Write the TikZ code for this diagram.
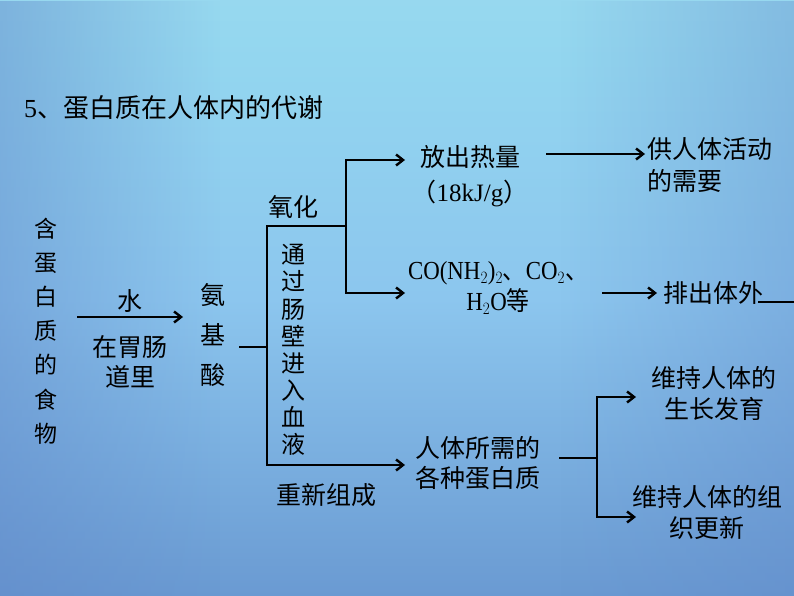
\documentclass[tikz,border=0pt]{standalone}
\usepackage{fontspec}
\setmainfont{Liberation Serif}
\newfontfamily\cjk{Noto Sans CJK SC}
\usetikzlibrary{arrows.meta,fadings}
\definecolor{bgtop}{HTML}{A4E0EF}
\definecolor{bgmidA}{HTML}{93D6EF}
\definecolor{bgmidB}{HTML}{8CC6EE}
\definecolor{bgmidC}{HTML}{6A9AD2}
\definecolor{bgbot}{HTML}{3F5E9A}
\definecolor{sidecol}{HTML}{5F86C8}
\pgfdeclareverticalshading{bgshade}{100bp}{color(0bp)=(bgbot); color(8bp)=(bgbot); color(25bp)=(bgmidC); color(50bp)=(bgmidB); color(70bp)=(bgmidA); color(92bp)=(bgtop); color(100bp)=(bgtop)}
\tikzset{
  txt/.style={inner sep=0pt, align=center, font=\cjk\fontsize{25}{31}\selectfont},
  vtxt/.style={inner sep=0pt, align=center},
  conn/.style={line width=2.6pt, line cap=rect},
  arr/.style={conn, -{Straight Barb[length=7pt,width=11pt,line width=2.4pt]}},
}
\newcommand{\narrow}[1]{\scalebox{0.88}[1]{#1}}
\begin{document}
\begin{tikzpicture}[x=1pt,y=-1pt]
\useasboundingbox (0,0) rectangle (794,596);
\fill[shading=bgshade] (0,0) rectangle (794,596);
\fill[sidecol, opacity=0.45, path fading=east] (0,0) rectangle (220,596);
\fill[sidecol, opacity=0.35, path fading=west] (560,0) rectangle (794,596);

% title
\node[txt, anchor=west] (title) at (24,108) {\rmfamily\fontsize{26}{30}\selectfont 5\cjk 、蛋白质在人体内的代谢};

% left column
\node[vtxt, font=\cjk\fontsize{23}{34.2}\selectfont] (food) at (46,331) {含\\蛋\\白\\质\\的\\食\\物};
\node[txt] (water) at (130,301) {水};
\node[txt, font=\cjk\fontsize{25}{30}\selectfont] (gut) at (130,362) {在胃肠\\道里};
\node[vtxt, font=\cjk\fontsize{25}{40}\selectfont] (amino) at (213,335) {氨\\基\\酸};

\coordinate (w1) at (78,317);
\coordinate (w2) at (183,317);
\draw[arr] (w1) -- (w2);

% branch
\coordinate (a0) at (240,347);
\coordinate (j1) at (267,347);
\coordinate (jt) at (267,226);
\coordinate (jb) at (267,465);
\coordinate (k0) at (346,226);
\coordinate (kt) at (346,160);
\coordinate (kb) at (346,293);
\draw[conn] (a0) -- (j1);
\draw[conn] (jt) -- (jb);
\draw[conn] (jt) -- (k0);
\draw[conn] (kt) -- (kb);

\node[txt] (oxid) at (293,207) {氧化};
\node[vtxt, font=\cjk\fontsize{24}{27.1}\selectfont] (blood) at (293,350) {通\\过\\肠\\壁\\进\\入\\血\\液};
\node[txt] (recomb) at (326,495) {重新组成};

\node[txt, font=\cjk\fontsize{25}{35}\selectfont] (heat) at (470,176) {放出热量\\（{\rmfamily 18kJ/g}）};
\node[inner sep=0pt, align=center, font=\fontsize{26}{31}\selectfont] (waste) at (498,288) {\narrow{CO(NH$_2$)$_2${\cjk 、}CO$_2${\cjk 、}}\\\narrow{H$_2$O{\cjk 等}}};
\node[txt, font=\cjk\fontsize{25}{30}\selectfont] (prot) at (478,463) {人体所需的\\各种蛋白质};

\coordinate (h1) at (405,160);
\coordinate (h2) at (405,293);
\coordinate (h3) at (405,465);
\draw[arr] (kt) -- (h1);
\draw[arr] (kb) -- (h2);
\draw[arr] (jb) -- (h3);

% right column
\node[txt, anchor=west, align=left, font=\cjk\fontsize{25}{32}\selectfont] (activity) at (647,165) {供人体活动\\的需要};
\coordinate (e1) at (547,154);
\coordinate (e2) at (645,154);
\draw[arr] (e1) -- (e2);

\node[txt, anchor=west] (excrete) at (663,293) {排出体外};
\coordinate (x1) at (603,293);
\coordinate (x2) at (657,293);
\draw[arr] (x1) -- (x2);
\coordinate (u1) at (758,302);
\coordinate (u2) at (794,302);
\draw[line width=2pt] (u1) -- (u2);

\coordinate (p0) at (560,458);
\coordinate (p1) at (597,458);
\coordinate (pt) at (597,397);
\coordinate (pb) at (597,517);
\coordinate (q1) at (636,397);
\coordinate (q2) at (636,517);
\draw[conn] (p0) -- (p1);
\draw[conn] (pt) -- (pb);
\draw[arr] (pt) -- (q1);
\draw[arr] (pb) -- (q2);

\node[txt, font=\cjk\fontsize{25}{31}\selectfont] (growth) at (714,393) {维持人体的\\生长发育};
\node[txt, font=\cjk\fontsize{25}{31}\selectfont] (renew) at (707,512) {维持人体的组\\织更新};
\end{tikzpicture}
\end{document}
